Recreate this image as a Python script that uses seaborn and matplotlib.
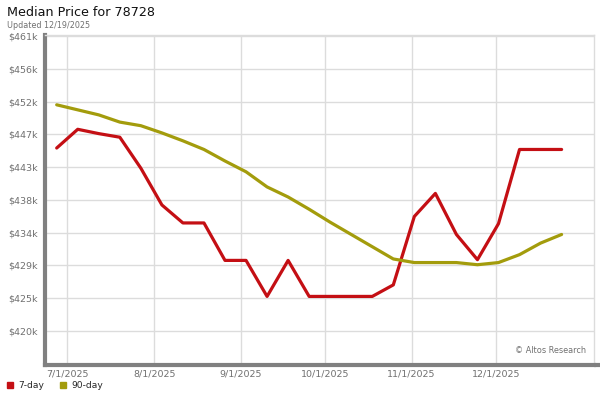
import pandas as pd
import numpy as np
import matplotlib
matplotlib.use("Agg")
import matplotlib.pyplot as plt
import seaborn as sns
from matplotlib.lines import Line2D

# weekly points, index based x axis
week = list(range(25))
seven_day = [445.4, 448.0, 447.4, 446.9, 442.6, 437.5, 435.0, 435.0, 429.8, 429.8,
             424.8, 429.8, 424.8, 424.8, 424.8, 424.8, 426.4, 435.9, 439.1, 433.4,
             429.9, 434.9, 445.2, 445.2, 445.2]
ninety_day = [451.4, 450.7, 450.0, 449.0, 448.5, 447.5, 446.4, 445.2, 443.6, 442.1,
              440.0, 438.6, 436.9, 435.1, 433.4, 431.7, 430.0, 429.5, 429.5, 429.5,
              429.2, 429.5, 430.6, 432.2, 433.4]

month_pos = [0.50, 4.64, 8.76, 12.75, 16.87, 20.87]
month_labels = ["7/1/2025", "8/1/2025", "9/1/2025", "10/1/2025", "11/1/2025", "12/1/2025"]
ytick_vals = [420.0, 424.55, 429.1, 433.65, 438.2, 442.75, 447.3, 451.85, 456.4, 460.95]
ytick_labels = ["$420k", "$425k", "$429k", "$434k", "$438k", "$443k", "$447k", "$452k", "$456k", "$461k"]

df = pd.DataFrame({
    "week": week * 2,
    "price": seven_day + ninety_day,
    "series": ["7-day"] * 25 + ["90-day"] * 25,
})

red = "#c40f14"
olive = "#a39c0c"
grid_c = "#dcdcdc"
text_c = "#707070"

sns.set_style("white")
plt.rcParams['font.family'] = ['DejaVu Sans']

fig = plt.figure(figsize=(6, 4), dpi=100)
ax = fig.add_axes([0.075, 0.0875, 0.915, 0.825])

sns.lineplot(data=df, x="week", y="price", hue="series",
             palette={"7-day": red, "90-day": olive}, linewidth=2.3,
             legend=False, ax=ax)

ax.set_xlim(-0.556, 25.54)
ax.set_ylim(415.28, 461.09)
ax.set_xticks(month_pos)
ax.set_xticklabels(month_labels)
ax.set_yticks(ytick_vals)
ax.set_yticklabels(ytick_labels)
ax.set_xlabel("")
ax.set_ylabel("")
ax.grid(True, color=grid_c, linewidth=1)
ax.set_axisbelow(True)
ax.tick_params(axis="both", labelsize=6.8, colors=text_c, length=0, pad=5)
ax.tick_params(axis="x", pad=3)

for s in ["top", "right"]:
    ax.spines[s].set_color(grid_c)
    ax.spines[s].set_linewidth(1)
ax.spines["left"].set_color("#808080")
ax.spines["left"].set_linewidth(3)
ax.spines["bottom"].set_color("#808080")
ax.spines["bottom"].set_linewidth(3)
# bottom rule runs on to the right edge of the figure
ax.plot([1.0, 1.02], [0, 0], transform=ax.transAxes, color="#808080",
        linewidth=3, clip_on=False, solid_capstyle="butt")

ax.text(0.985, 0.03, "\u00a9 Altos Research", transform=ax.transAxes,
        ha="right", va="bottom", fontsize=5.9, color=text_c)

fig.text(7 / 600, 1 - 12 / 400, "Median Price for 78728", fontsize=9.2,
         color="#111111", va="center", ha="left")
fig.text(7 / 600, 1 - 25 / 400, "Updated 12/19/2025", fontsize=5.8,
         color=text_c, va="center", ha="left")

handles = [Line2D([], [], marker="s", linestyle="none", color=red, markersize=4.5),
           Line2D([], [], marker="s", linestyle="none", color=olive, markersize=4.5)]
fig.legend(handles, ["7-day", "90-day"], loc="center left",
           bbox_to_anchor=(0.0, 1 - 386 / 400), ncol=2, frameon=False,
           fontsize=6.6, handletextpad=0.4, columnspacing=1.6, handlelength=1.0,
           borderaxespad=0.2)

fig.savefig("out.png", dpi=100)
